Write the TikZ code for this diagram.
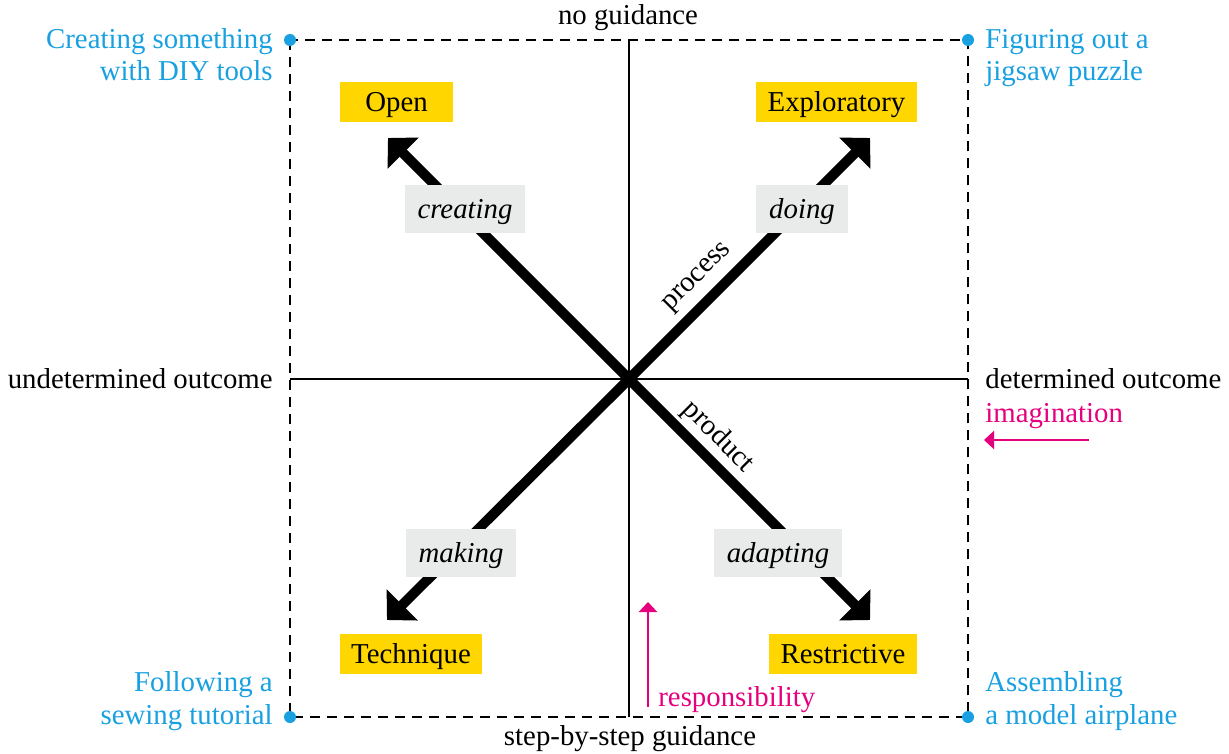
\documentclass[tikz,border=0pt]{standalone}
\usepackage{fontspec}
\setmainfont{Liberation Serif}
\usetikzlibrary{arrows.meta}

\definecolor{boxyellow}{RGB}{255,214,0}
\definecolor{boxgrey}{RGB}{233,234,234}
\definecolor{labelblue}{RGB}{24,160,224}
\definecolor{hintpink}{RGB}{230,0,126}

\newcommand{\labelfont}{\fontsize{16.4}{18.7}\selectfont}

\tikzset{
  frame/.style={line width=0.04cm, dash pattern=on 0.2cm off 0.14cm},
  axisline/.style={line width=0.04cm},
  bigarrow/.style={line width=0.2cm, shorten <=-0.1cm, -{Triangle[length=0.43cm,width=0.86cm]}},
  ybox/.style={fill=boxyellow, inner xsep=0.23cm, inner ysep=0pt, minimum height=0.8cm,
    text height=10.8pt, text depth=0pt},
  gbox/.style={fill=boxgrey, inner xsep=0.26cm, inner ysep=0pt, minimum height=0.95cm,
    text height=10.8pt, text depth=0pt, font=\labelfont\itshape},
  plain/.style={inner sep=0pt},
  bluelabel/.style={text=labelblue, inner sep=0pt},
  pinklabel/.style={text=hintpink, inner sep=0pt},
  dot/.style={circle, fill=labelblue, inner sep=0pt, minimum size=0.24cm},
  hint/.style={line width=0.05cm, draw=hintpink, -{Triangle[length=0.2cm,width=0.36cm]}},
}

\begin{document}
\begin{tikzpicture}[x=0.02cm, y=-0.02cm, font=\labelfont]
\path[use as bounding box] (0,0) rectangle (1229,753);

% corners of the frame and the ends of the two axes
\coordinate (tl) at (290,40);
\coordinate (tr) at (968,40);
\coordinate (bl) at (290,717);
\coordinate (br) at (968,717);
\coordinate (c) at (629,379);
\coordinate (vtop) at (629,40);
\coordinate (vbot) at (629,717);
\coordinate (hleft) at (290,379);
\coordinate (hright) at (968,379);

% dashed frame and axes
\draw[frame] (tl) rectangle (br);
\draw[axisline] (vtop) -- (vbot);
\draw[axisline] (hleft) -- (hright);

% diagonal arrows out of the centre
\coordinate (nwtip) at (388,138);
\coordinate (netip) at (870,138);
\coordinate (swtip) at (387,620);
\coordinate (setip) at (870,620);
\draw[bigarrow] (c) -- (nwtip);
\draw[bigarrow] (c) -- (netip);
\draw[bigarrow] (c) -- (swtip);
\draw[bigarrow] (c) -- (setip);

% verbs on the arrows
\node[gbox] (creating) at (465,209) {creating};
\node[gbox] (doing) at (802,209) {doing};
\node[gbox] (making) at (461,553) {making};
\node[gbox] (adapting) at (778,553) {adapting};

\node[plain, rotate=45] (process) at (698,278) {process};
\node[plain, rotate=-45] (product) at (718,437) {product};

% quadrant names
\node[ybox, minimum width=2.26cm] (open) at (396.5,102) {Open};
\node[ybox] (exploratory) at (836.5,102) {Exploratory};
\node[ybox] (technique) at (411,654) {Technique};
\node[ybox] (restrictive) at (843,654) {Restrictive};

% axis labels
\node[plain, anchor=base] (noguide) at (628,25) {no guidance};
\node[plain, anchor=base] (stepguide) at (630,745) {step-by-step guidance};
\node[plain, anchor=base east] (undet) at (273,388) {undetermined outcome};
\node[plain, anchor=base west] (det) at (985,388) {determined outcome};

% gradients
\node[pinklabel, anchor=base west] (imag) at (985,422) {imagination};
\coordinate (imagstart) at (1089,440);
\coordinate (imagend) at (984,440);
\draw[hint] (imagstart) -- (imagend);

\node[pinklabel, anchor=base west] (resp) at (658,706) {responsibility};
\coordinate (respstart) at (648,707);
\coordinate (respend) at (648,602);
\draw[hint] (respstart) -- (respend);

% examples at the corners (base anchor sits on the last line)
\node[bluelabel, anchor=base east, align=right] (diy) at (273,81) {Creating something\\with DIY tools};
\node[bluelabel, anchor=base west, align=left] (jigsaw) at (985,81) {Figuring out a\\jigsaw puzzle};
\node[bluelabel, anchor=base east, align=right] (sewing) at (273,724) {Following a\\sewing tutorial};
\node[bluelabel, anchor=base west, align=left] (airplane) at (985,724) {Assembling\\a model airplane};

\node[dot] (dtl) at (tl) {};
\node[dot] (dtr) at (tr) {};
\node[dot] (dbl) at (bl) {};
\node[dot] (dbr) at (br) {};
\end{tikzpicture}
\end{document}
